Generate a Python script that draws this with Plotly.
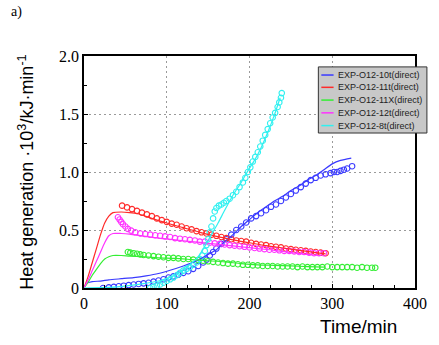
import plotly.graph_objects as go

# ---------------- data ----------------
names = ["EXP-O12-10t(direct)", "EXP-O12-11t(direct)", "EXP-O12-11X(direct)",
         "EXP-O12-12t(direct)", "EXP-O12-8t(direct)"]
colors = ["#3a3aff", "#ff2a2a", "#33ee33", "#ff33ff", "#30f0f0"]

# model lines
blue_line_x = [0, 3, 10, 20, 30, 45, 60, 75, 90, 105, 120, 135, 150, 160, 170, 180, 190, 200, 210, 220, 230, 240, 250, 260, 270, 280, 290, 300, 310, 323]
blue_line_y = [0, 0.04, 0.055, 0.06, 0.07, 0.08, 0.09, 0.105, 0.125, 0.155, 0.19, 0.23, 0.29, 0.33, 0.40, 0.46, 0.53, 0.59, 0.65, 0.70, 0.75, 0.79, 0.84, 0.88, 0.93, 0.97, 1.02, 1.07, 1.10, 1.12]

red_line_x = [0, 5, 10, 15, 20, 25, 30, 35, 45, 55, 65, 80, 100, 120, 140, 160, 180, 200, 220, 240, 260, 280, 292]
red_line_y = [0, 0.10, 0.22, 0.34, 0.46, 0.56, 0.62, 0.65, 0.655, 0.65, 0.64, 0.605, 0.56, 0.52, 0.48, 0.445, 0.415, 0.39, 0.365, 0.345, 0.325, 0.305, 0.295]

green_line_x = [0, 5, 10, 15, 20, 25, 30, 35, 45, 55, 70, 90, 110, 130, 150, 170, 190, 210, 230, 250, 270, 290]
green_line_y = [0, 0.05, 0.11, 0.16, 0.21, 0.25, 0.27, 0.28, 0.28, 0.275, 0.27, 0.26, 0.255, 0.245, 0.235, 0.225, 0.21, 0.20, 0.195, 0.19, 0.185, 0.18]

mag_line_x = [0, 5, 10, 15, 20, 25, 30, 35, 45, 55, 70, 90, 110, 130, 150, 170, 190, 210, 230, 250, 270, 285]
mag_line_y = [0, 0.07, 0.15, 0.23, 0.31, 0.39, 0.45, 0.47, 0.47, 0.465, 0.45, 0.43, 0.415, 0.40, 0.385, 0.37, 0.355, 0.34, 0.325, 0.305, 0.29, 0.28]

cyan_line_x = [0, 40, 70, 90, 110, 126, 138, 146, 154, 162, 170, 180, 190, 198, 206, 214, 222, 230, 237]
cyan_line_y = [0, 0.01, 0.035, 0.06, 0.11, 0.19, 0.27, 0.36, 0.46, 0.56, 0.67, 0.80, 0.91, 1.01, 1.10, 1.21, 1.34, 1.49, 1.64]

# experimental points
blue_pts_x = [23, 30, 36, 42, 48, 54, 60, 66, 72, 78, 84, 90, 96, 102, 108, 114, 120, 126, 132, 138, 144, 148, 152, 156, 160, 166, 172, 178, 184, 190, 196, 202, 208, 214, 220, 226, 232, 238, 244, 250, 256, 262, 268, 274, 280, 286, 292, 298, 302, 306, 310, 314, 318, 324]
blue_pts_y = [0.0, 0.005, 0.01, 0.015, 0.02, 0.025, 0.03, 0.035, 0.04, 0.045, 0.055, 0.065, 0.075, 0.09, 0.10, 0.115, 0.13, 0.145, 0.165, 0.19, 0.22, 0.245, 0.28, 0.31, 0.34, 0.38, 0.42, 0.46, 0.50, 0.53, 0.565, 0.60, 0.62, 0.645, 0.67, 0.70, 0.72, 0.75, 0.78, 0.81, 0.84, 0.87, 0.90, 0.93, 0.95, 0.97, 0.98, 0.99, 1.00, 1.00, 1.01, 1.02, 1.03, 1.05]

red_pts_x = [46, 52, 58, 64, 70, 76, 82, 88, 94, 100, 106, 112, 118, 124, 130, 136, 142, 148, 154, 160, 166, 172, 178, 184, 190, 196, 202, 208, 214, 220, 226, 232, 238, 244, 250, 256, 262, 268, 274, 280, 286, 292]
red_pts_y = [0.71, 0.695, 0.68, 0.665, 0.65, 0.635, 0.62, 0.60, 0.585, 0.57, 0.555, 0.545, 0.53, 0.515, 0.505, 0.49, 0.48, 0.47, 0.46, 0.45, 0.44, 0.43, 0.42, 0.41, 0.405, 0.40, 0.39, 0.38, 0.375, 0.37, 0.36, 0.355, 0.35, 0.34, 0.335, 0.33, 0.325, 0.32, 0.315, 0.31, 0.305, 0.30]

green_pts_x = [53, 56, 60, 64, 68, 72, 78, 84, 90, 96, 102, 108, 114, 120, 126, 132, 138, 144, 150, 156, 162, 168, 174, 180, 186, 192, 198, 204, 210, 216, 222, 228, 234, 240, 246, 252, 258, 264, 270, 276, 282, 288, 294, 300, 306, 312, 318, 324, 330, 336, 342, 348, 352]
green_pts_y = [0.31, 0.305, 0.30, 0.295, 0.29, 0.285, 0.28, 0.275, 0.27, 0.265, 0.26, 0.26, 0.255, 0.25, 0.25, 0.245, 0.24, 0.235, 0.23, 0.225, 0.22, 0.215, 0.21, 0.21, 0.205, 0.20, 0.20, 0.195, 0.195, 0.19, 0.19, 0.19, 0.185, 0.185, 0.185, 0.185, 0.18, 0.185, 0.18, 0.18, 0.18, 0.18, 0.185, 0.18, 0.18, 0.18, 0.18, 0.18, 0.175, 0.18, 0.175, 0.175, 0.175]

mag_pts_x = [41, 43, 45, 47, 50, 53, 57, 62, 68, 74, 80, 86, 92, 98, 104, 110, 116, 122, 128, 134, 140, 146, 152, 158, 164, 170, 176, 182, 188, 194, 200, 206, 212, 218, 224, 230, 236, 242, 248, 254, 260, 266, 272, 278, 284, 290]
mag_pts_y = [0.61, 0.59, 0.57, 0.55, 0.53, 0.51, 0.495, 0.48, 0.47, 0.465, 0.46, 0.455, 0.45, 0.445, 0.44, 0.43, 0.425, 0.42, 0.415, 0.41, 0.40, 0.40, 0.39, 0.385, 0.38, 0.375, 0.37, 0.365, 0.36, 0.355, 0.35, 0.345, 0.34, 0.335, 0.33, 0.33, 0.325, 0.32, 0.32, 0.315, 0.31, 0.31, 0.305, 0.30, 0.30, 0.30]

cyan_pts_x = [80, 84, 88, 92, 96, 100, 104, 108, 112, 116, 120, 124, 128, 132, 136, 140, 143, 146, 148, 150, 152, 154, 156, 158, 160, 163, 166, 169, 172, 176, 180, 184, 188, 192, 195, 198, 201, 204, 207, 210, 213, 216, 219, 222, 225, 228, 231, 234, 236, 238, 239]
cyan_pts_y = [0.0, 0.01, 0.02, 0.03, 0.045, 0.06, 0.075, 0.09, 0.11, 0.13, 0.15, 0.165, 0.18, 0.20, 0.22, 0.25, 0.28, 0.32, 0.37, 0.42, 0.48, 0.53, 0.60, 0.66, 0.69, 0.71, 0.72, 0.735, 0.75, 0.77, 0.80, 0.83, 0.87, 0.91, 0.95, 1.00, 1.04, 1.09, 1.13, 1.17, 1.22, 1.27, 1.32, 1.37, 1.42, 1.47, 1.51, 1.56, 1.60, 1.64, 1.68]

x_ticks = [0, 100, 200, 300, 400]
x_tick_text = ["0", "100", "200", "300", "400"]
y_ticks = [0, 0.5, 1.0, 1.5, 2.0]
y_tick_text = ["0", "0.5", "1.0", "1.5", "2.0"]

lines = [(blue_line_x, blue_line_y), (red_line_x, red_line_y), (green_line_x, green_line_y),
         (mag_line_x, mag_line_y), (cyan_line_x, cyan_line_y)]
points = [(blue_pts_x, blue_pts_y), (red_pts_x, red_pts_y), (green_pts_x, green_pts_y),
          (mag_pts_x, mag_pts_y), (cyan_pts_x, cyan_pts_y)]

# ---------------- figure ----------------
fig = go.Figure()
for (px, py), c, n in zip(points, colors, names):
    fig.add_trace(go.Scatter(x=px, y=py, mode="markers", showlegend=False, name=n,
                             marker=dict(symbol="circle-open", size=5.5, color=c,
                                         line=dict(width=1.1, color=c))))
for (lx, ly), c, n in zip(lines, colors, names):
    fig.add_trace(go.Scatter(x=lx, y=ly, mode="lines", showlegend=False, name=n,
                             line=dict(color=c, width=1.2, shape="spline", smoothing=0.6)))

axis_common = dict(showline=True, linecolor="black", linewidth=1.6, mirror=True,
                   zeroline=False, showgrid=True, gridcolor="#9a9a9a", gridwidth=1.2,
                   griddash="2px,3px", ticks="inside", ticklen=4, tickcolor="black",
                   tickfont=dict(family="Liberation Serif", size=16, color="black"))

fig.update_xaxes(range=[0, 400], tickvals=x_ticks, ticktext=x_tick_text,
                 minor=dict(dtick=25, ticks="inside", ticklen=3, tickcolor="black", showgrid=False),
                 **axis_common)
fig.update_yaxes(range=[0, 2.0], tickvals=y_ticks, ticktext=y_tick_text,
                 minor=dict(dtick=0.25, ticks="inside", ticklen=3, tickcolor="black", showgrid=False),
                 **axis_common)

# manual legend (small grey box that sticks out past the right frame, like the original)
lx0, lx1 = 0.708, 1.036
ly0, ly1 = 0.668, 0.953
shapes = [dict(type="rect", xref="paper", yref="paper", x0=lx0, x1=lx1, y0=ly0, y1=ly1,
               fillcolor="#c8c8c8", line=dict(color="#333333", width=1), layer="above")]
annotations = []
row_y = [0.918, 0.865, 0.810, 0.755, 0.700]
for n, c, yy in zip(names, colors, row_y):
    shapes.append(dict(type="line", xref="paper", yref="paper", x0=0.717, x1=0.754,
                       y0=yy, y1=yy, line=dict(color=c, width=1.5), layer="above"))
    annotations.append(dict(text=n, xref="paper", yref="paper", x=0.760, y=yy,
                            xanchor="left", yanchor="middle", showarrow=False,
                            font=dict(family="Liberation Sans", size=9, color="#222222")))

annotations.append(dict(text="Heat generation ·10<sup>3</sup>/kJ·min<sup>-1</sup>",
                        xref="paper", yref="paper", x=-0.176, y=0.5, textangle=-90,
                        xanchor="center", yanchor="middle", showarrow=False,
                        font=dict(family="Liberation Sans", size=18, color="black")))
annotations.append(dict(text="Time/min", xref="paper", yref="paper", x=0.83, y=-0.168,
                        xanchor="center", yanchor="middle", showarrow=False,
                        font=dict(family="Liberation Sans", size=19, color="black")))
annotations.append(dict(text="a)", xref="paper", yref="paper", x=-0.228, y=1.19,
                        xanchor="left", yanchor="middle", showarrow=False,
                        font=dict(family="Liberation Serif", size=14, color="black")))

fig.update_layout(width=439, height=345, margin=dict(l=84, r=19, t=56, b=57),
                  paper_bgcolor="white", plot_bgcolor="white", showlegend=False,
                  shapes=shapes, annotations=annotations)

fig.write_html("out.html")
